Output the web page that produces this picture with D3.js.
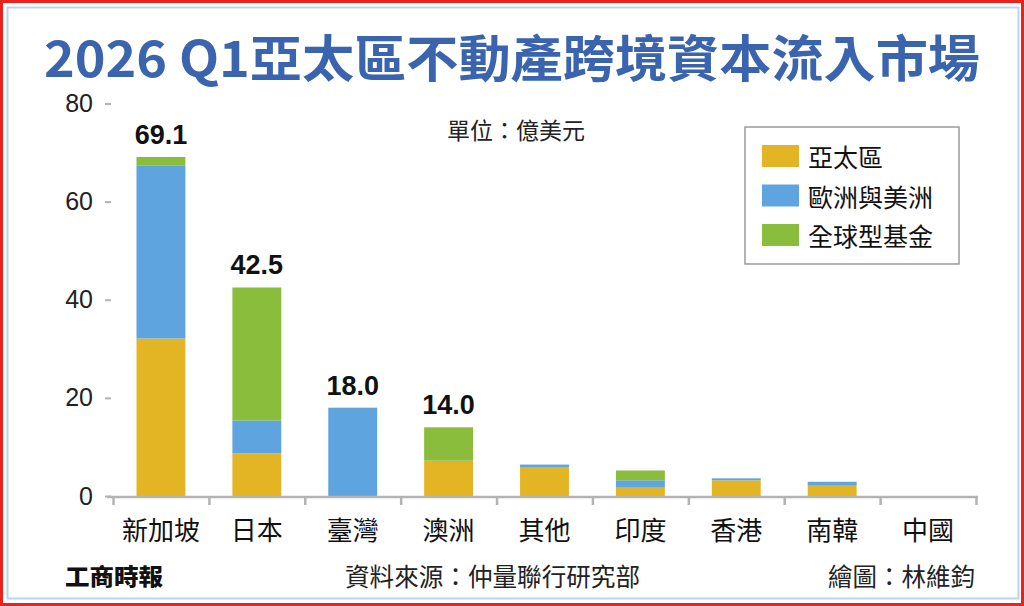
<!DOCTYPE html>
<html>
<head>
<meta charset="utf-8">
<script src="https://cdn.jsdelivr.net/npm/d3@7"></script>
<style>
  body { margin: 0; background: #fff; }
  svg { display: block; }
</style>
</head>
<body>
<script>
const categories = ["新加坡", "日本", "臺灣", "澳洲", "其他", "印度", "香港", "南韓", "中國"];
const seriesNames = ["亞太區", "歐洲與美洲", "全球型基金"];
const asiaPacific = [32.1, 8.7, 0, 7.2, 5.9, 1.7, 3.2, 2.1, 0];
const europeAmericas = [35.3, 6.7, 18.0, 0, 0.5, 1.5, 0.4, 0.8, 0];
const globalFunds = [1.7, 27.1, 0, 6.8, 0, 2.0, 0, 0, 0];
const labelledTotals = ["新加坡", "日本", "臺灣", "澳洲"];
const yTicks = [0, 20, 40, 60, 80];

const colors = ["#e3b424", "#5ea4de", "#89bd3b"];

const width = 1024;
const height = 606;
const cjk = "'Noto Sans CJK TC', 'Noto Sans CJK SC', sans-serif";
const latin = "'Liberation Sans', Arial, sans-serif";
const narrow = "'Liberation Sans Narrow', 'Liberation Sans', Arial, sans-serif";

const table = categories.map((c, i) => ({
  cat: c,
  [seriesNames[0]]: asiaPacific[i],
  [seriesNames[1]]: europeAmericas[i],
  [seriesNames[2]]: globalFunds[i],
}));

const stacked = d3.stack().keys(seriesNames)(table);

const svg = d3
  .select("body")
  .append("svg")
  .attr("width", width)
  .attr("height", height);

svg.append("rect").attr("width", width).attr("height", height).attr("fill", "#fff");

// frame
svg
  .append("rect")
  .attr("x", 1.5)
  .attr("y", 1.5)
  .attr("width", width - 3)
  .attr("height", height - 3)
  .attr("fill", "none")
  .attr("stroke", "#e8221c")
  .attr("stroke-width", 3);

svg
  .append("rect")
  .attr("x", 7.5)
  .attr("y", 7.5)
  .attr("width", 1011)
  .attr("height", 591)
  .attr("fill", "none")
  .attr("stroke", "#b9d5ec")
  .attr("stroke-width", 2);

// title
svg
  .append("text")
  .attr("x", 44)
  .attr("y", 55)
  .attr("dominant-baseline", "central")
  .attr("textLength", 936)
  .attr("lengthAdjust", "spacingAndGlyphs")
  .attr("font-family", cjk)
  .attr("font-weight", 700)
  .attr("font-size", 50)
  .attr("fill", "#3a64ae")
  .text("2026 Q1亞太區不動產跨境資本流入市場");

const x0 = 113;
const x1 = 976;

const xScale = d3
  .scaleBand()
  .domain(categories)
  .range([x0, x1])
  .paddingInner(0.49)
  .paddingOuter(0.245);

const xBounds = d3.scaleLinear().domain([0, categories.length]).range([x0, x1]);

const yScale = d3.scaleLinear().domain([0, 80]).range([496, 103.5]);

// y axis
const yAxis = d3
  .axisLeft(yScale)
  .tickValues(yTicks)
  .tickSize(6)
  .tickPadding(12);

const yG = svg.append("g").attr("transform", "translate(111 0)").call(yAxis);
yG.select(".domain").remove();
yG.selectAll("line").attr("stroke", "#b3b3b3").attr("stroke-width", 2);
yG.selectAll("text")
  .attr("font-family", narrow)
  .attr("font-size", 25)
  .attr("fill", "#222");

// bars
const layers = svg
  .append("g")
  .selectAll("g")
  .data(stacked)
  .join("g")
  .attr("fill", (d, i) => colors[i]);

layers
  .selectAll("rect")
  .data((d) => d.filter((p) => p[1] - p[0] > 0))
  .join("rect")
  .attr("x", (d) => xScale(d.data.cat))
  .attr("width", xScale.bandwidth())
  .attr("y", (d) => yScale(d[1]))
  .attr("height", (d) => yScale(d[0]) - yScale(d[1]));

// x axis: boundary ticks
const xAxis = d3
  .axisBottom(xBounds)
  .tickValues(d3.range(categories.length + 1))
  .tickFormat("")
  .tickSize(8)
  .tickSizeOuter(0);

const xG = svg.append("g").attr("transform", "translate(0 497)").call(xAxis);
xG.select(".domain").remove();
xG.selectAll("line").attr("stroke", "#b3b3b3").attr("stroke-width", 2.5);
xG.append("line")
  .attr("x1", 107)
  .attr("x2", 978)
  .attr("stroke", "#b3b3b3")
  .attr("stroke-width", 2.5);

// category labels
const catAxis = d3.axisBottom(xScale).tickSize(0).tickPadding(0);
const cG = svg.append("g").attr("transform", "translate(0 528)").call(catAxis);
cG.select(".domain").remove();
cG.selectAll("text")
  .attr("dy", null)
  .attr("y", 0)
  .attr("dominant-baseline", "central")
  .attr("font-family", cjk)
  .attr("font-size", 26)
  .attr("fill", "#111");

// totals
svg
  .append("g")
  .selectAll("text")
  .data(table.filter((d) => labelledTotals.includes(d.cat)))
  .join("text")
  .attr("x", (d) => xScale(d.cat) + xScale.bandwidth() / 2)
  .attr("y", (d) => yScale(d3.sum(seriesNames, (k) => d[k])) - 13)
  .attr("text-anchor", "middle")
  .attr("font-family", latin)
  .attr("font-weight", 700)
  .attr("font-size", 27)
  .attr("fill", "#111")
  .text((d) => d3.sum(seriesNames, (k) => d[k]).toFixed(1));

// unit
svg
  .append("text")
  .attr("x", 516)
  .attr("y", 129)
  .attr("text-anchor", "middle")
  .attr("dominant-baseline", "central")
  .attr("font-family", cjk)
  .attr("font-size", 23)
  .attr("fill", "#222")
  .text("單位：億美元");

// legend
const legend = svg.append("g").attr("transform", "translate(745 127)");

legend
  .append("rect")
  .attr("width", 214)
  .attr("height", 137)
  .attr("fill", "#fff")
  .attr("stroke", "#9a9a9a")
  .attr("stroke-width", 1.5);

const items = legend
  .selectAll("g")
  .data(seriesNames)
  .join("g")
  .attr("transform", (d, i) => `translate(17 ${18 + i * 39.5})`);

items
  .append("rect")
  .attr("width", 37)
  .attr("height", 22)
  .attr("fill", (d, i) => colors[i]);

items
  .append("text")
  .attr("x", 46)
  .attr("y", 11)
  .attr("dominant-baseline", "central")
  .attr("font-family", cjk)
  .attr("font-size", 25)
  .attr("fill", "#111")
  .text((d) => d);

// footer
svg
  .append("text")
  .attr("x", 65)
  .attr("y", 575)
  .attr("dominant-baseline", "central")
  .attr("textLength", 98)
  .attr("lengthAdjust", "spacingAndGlyphs")
  .attr("font-family", cjk)
  .attr("font-weight", 900)
  .attr("font-size", 23)
  .attr("fill", "#111")
  .text("工商時報");

svg
  .append("text")
  .attr("x", 345)
  .attr("y", 575)
  .attr("dominant-baseline", "central")
  .attr("textLength", 295)
  .attr("lengthAdjust", "spacingAndGlyphs")
  .attr("font-family", cjk)
  .attr("font-size", 25)
  .attr("fill", "#222")
  .text("資料來源：仲量聯行研究部");

svg
  .append("text")
  .attr("x", 828)
  .attr("y", 575)
  .attr("dominant-baseline", "central")
  .attr("textLength", 147)
  .attr("lengthAdjust", "spacingAndGlyphs")
  .attr("font-family", cjk)
  .attr("font-size", 25)
  .attr("fill", "#222")
  .text("繪圖：林維鈞");
</script>
</body>
</html>
